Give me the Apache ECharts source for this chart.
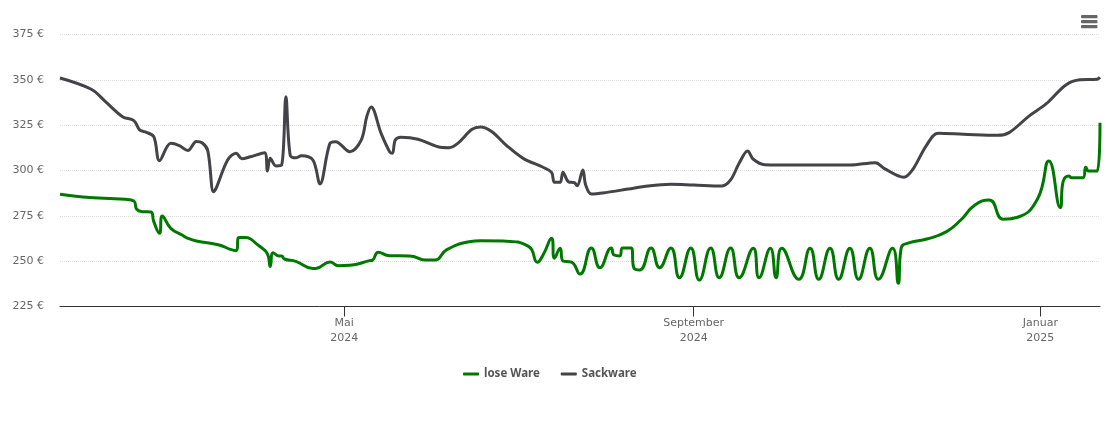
<!DOCTYPE html>
<html>
<head>
<meta charset="utf-8">
<title>Preisentwicklung</title>
<script src="https://cdn.jsdelivr.net/npm/echarts@6/dist/echarts.min.js"></script>
<style>
html, body { margin: 0; padding: 0; background: #fff; }
#chart { width: 1110px; height: 423px; }
</style>
</head>
<body>
<div id="chart"></div>
<script>
// lose Ware
var looseDates = ['2024-01-22','2024-01-30','2024-02-14','2024-02-17','2024-02-18','2024-02-20','2024-02-23','2024-02-24','2024-02-26','2024-02-27','2024-03-01','2024-03-05','2024-03-07','2024-03-10','2024-03-18','2024-03-22','2024-03-24','2024-03-25','2024-03-27','2024-04-01','2024-04-04','2024-04-05','2024-04-06','2024-04-08','2024-04-09','2024-04-10','2024-04-14','2024-04-20','2024-04-21','2024-04-26','2024-04-29','2024-05-03','2024-05-10','2024-05-11','2024-05-13','2024-05-17','2024-05-24','2024-05-30','2024-06-02','2024-06-06','2024-06-14','2024-06-18','2024-06-26','2024-07-05','2024-07-08','2024-07-10','2024-07-13','2024-07-14','2024-07-16','2024-07-17','2024-07-20','2024-07-23','2024-07-27','2024-07-30','2024-08-03','2024-08-04','2024-08-06','2024-08-07','2024-08-10','2024-08-11','2024-08-13','2024-08-17','2024-08-20','2024-08-24','2024-08-27','2024-08-31','2024-09-03','2024-09-07','2024-09-10','2024-09-14','2024-09-17','2024-09-22','2024-09-24','2024-09-28','2024-09-30','2024-10-02','2024-10-08','2024-10-12','2024-10-15','2024-10-19','2024-10-22','2024-10-26','2024-10-29','2024-11-02','2024-11-05','2024-11-10','2024-11-12','2024-11-13','2024-11-16','2024-11-22','2024-11-29','2024-12-04','2024-12-09','2024-12-14','2024-12-19','2024-12-24','2024-12-31','2025-01-04','2025-01-08','2025-01-09','2025-01-11','2025-01-12','2025-01-16','2025-01-17','2025-01-18','2025-01-21','2025-01-22'];
var looseValues = [286.9,285.4,284.1,283.2,278.6,277.3,277.1,271.8,265.4,274.9,268.1,264.4,262.6,261.1,258.9,256.5,255.8,263,263,258.5,254,247,254.7,252.9,252.9,251.2,249.9,246,246,249.5,247.5,247.7,250.3,250.6,254.9,253,252.9,250.6,250.6,256.2,260.7,261.3,261.1,258,249.4,253.4,262.6,251.6,257.1,250.1,249.5,242.9,257.3,246.4,257.3,253.4,252.9,257.3,257.3,246.1,245.1,257.3,246.4,257.3,240.9,257.3,239.6,257.3,240.9,257.2,240.9,257.1,240.9,257.1,240.9,257.1,240,257.1,240,257.1,240,257.1,240,257.1,240,257.1,237.8,257,260.2,262.2,266.3,272.7,281,283.7,273.1,274.2,284.3,305.3,279.5,293.8,297,296,296,301.8,299.7,299.7,326.4];

// Sackware
var sackDates = ['2024-01-22','2024-02-02','2024-02-07','2024-02-13','2024-02-17','2024-02-19','2024-02-21','2024-02-24','2024-02-26','2024-03-01','2024-03-04','2024-03-07','2024-03-10','2024-03-12','2024-03-14','2024-03-16','2024-03-17','2024-03-21','2024-03-24','2024-03-26','2024-03-29','2024-04-03','2024-04-04','2024-04-05','2024-04-07','2024-04-09','2024-04-10T12:00','2024-04-12','2024-04-14','2024-04-16','2024-04-20','2024-04-22T12:00','2024-04-26','2024-04-28','2024-05-03','2024-05-07','2024-05-09','2024-05-10T12:00','2024-05-14','2024-05-17','2024-05-18','2024-05-19','2024-05-21','2024-05-27','2024-06-03','2024-06-07','2024-06-10','2024-06-15','2024-06-18','2024-06-22','2024-06-27','2024-07-03','2024-07-10','2024-07-13','2024-07-14','2024-07-16','2024-07-17','2024-07-19','2024-07-21','2024-07-22','2024-07-24','2024-07-25','2024-07-27','2024-08-01','2024-08-09','2024-08-16','2024-08-24','2024-09-01','2024-09-11','2024-09-14','2024-09-17','2024-09-20','2024-09-22','2024-09-26','2024-10-07','2024-10-26','2024-11-04','2024-11-07','2024-11-14','2024-11-17','2024-11-22','2024-11-26','2024-12-05','2024-12-17','2024-12-21','2024-12-28','2025-01-03','2025-01-10','2025-01-15','2025-01-21','2025-01-22'];
var sackValues = [351,344.8,338,329.7,327.5,322.4,321.3,318.7,305.4,315,313.7,311,316,315.3,311,288.3,290.4,305.8,309.5,306.5,307.6,309.8,299.7,306.7,302.5,303,340.7,308.6,307,308.2,305.8,292.6,315,315.9,310.4,316.8,330,335,320.5,310.4,309.5,316.8,318.3,317.2,313.1,312.6,315,322.7,324,321.4,314,306.7,301.8,299,293.5,293.5,299,293.7,293.3,291.6,300.3,292,287,287.8,289.8,291.5,292.4,292,291.5,294.8,304,310.8,306.2,303.2,303,303,304.3,301.2,296.3,300.3,314,320.5,320,319.4,320.9,330,336.7,347.2,350,350.3,351.4];

var seriesNames = ['lose Ware', 'Sackware'];
var seriesColors = ['#007800', '#434348'];
var monthTicks = ['2024-05-01', '2024-09-01', '2025-01-01'];
var monthLabels = ['Mai', 'September', 'Januar'];

// Datum -> Zeitstempel, die x-Achse ist eine value-Achse damit customValues geht
function toTime(d) {
    return new Date(d.length > 10 ? d : d + 'T00:00:00').getTime();
}

function toPairs(dates, values) {
    return dates.map(function (d, i) {
        return [toTime(d), values[i]];
    });
}

var tickTimes = monthTicks.map(toTime);

function makeLine(name, color, smooth, data) {
    return {
        name: name,
        type: 'line',
        smooth: smooth,
        showSymbol: false,
        lineStyle: { width: 3, color: color },
        itemStyle: { color: color },
        data: data
    };
}

var chart = echarts.init(document.getElementById('chart'));
chart.setOption({
    animation: false,
    textStyle: { fontFamily: '"DejaVu Sans", sans-serif' },
    tooltip: { trigger: 'axis' },
    legend: {
        data: seriesNames.map(function (n) {
            return { name: n, icon: 'roundRect' };
        }),
        left: 458,
        top: 363,
        itemWidth: 16,
        itemHeight: 3,
        itemGap: 21,
        textStyle: { color: '#555', fontSize: 11.5, fontWeight: 'bold', fontFamily: '"Noto Sans", sans-serif' }
    },
    grid: { left: 60, right: 10, top: 34.5, bottom: 116.5 },
    xAxis: {
        type: 'value',
        min: toTime('2024-01-22'),
        max: toTime('2025-01-22'),
        axisLine: { lineStyle: { color: '#333', width: 1 } },
        axisTick: { show: true, length: 10, customValues: tickTimes, lineStyle: { color: '#333' } },
        splitLine: { show: false },
        axisLabel: {
            customValues: tickTimes,
            color: '#666',
            fontSize: 11,
            lineHeight: 15,
            margin: 9,
            hideOverlap: false,
            formatter: function (value) {
                var i = tickTimes.indexOf(value);
                return monthLabels[i] + '\n' + new Date(value).getFullYear();
            }
        }
    },
    yAxis: {
        type: 'value',
        min: 225,
        max: 375,
        interval: 25,
        axisLine: { show: false },
        axisTick: { show: false },
        splitLine: { lineStyle: { color: '#ddd', type: 'dotted', width: 1 } },
        axisLabel: {
            color: '#666',
            fontSize: 11,
            margin: 16,
            padding: [0, 0, 3, 0],
            formatter: '{value} €'
        }
    },
    series: [
        makeLine(seriesNames[0], seriesColors[0], 0.5, toPairs(looseDates, looseValues)),
        makeLine(seriesNames[1], seriesColors[1], 0.35, toPairs(sackDates, sackValues))
    ],
    // Menü-Symbol oben rechts
    graphic: [15, 20, 25].map(function (y) {
        return {
            type: 'rect',
            shape: { x: 1081, y: y, width: 16.5, height: 3.2, r: 1 },
            style: { fill: '#666' }
        };
    })
});
</script>
</body>
</html>
